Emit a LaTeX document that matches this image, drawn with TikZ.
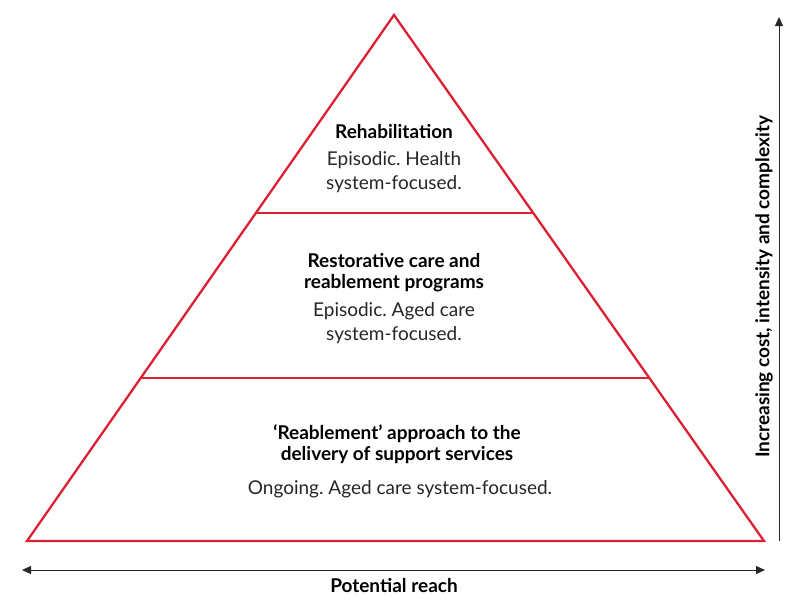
\documentclass[tikz,border=0pt]{standalone}
\usepackage{fontspec}
\setmainfont{Lato}
\usetikzlibrary{arrows.meta,calc}
\definecolor{pyrred}{RGB}{220,32,52}
\definecolor{arrgray}{RGB}{40,40,40}
\frenchspacing
\begin{document}
\begin{tikzpicture}[x=1pt,y=-1pt,
  pyr/.style={draw=pyrred,line width=2.3pt,line join=miter},
  title/.style={font=\fontsize{19}{21}\selectfont\bfseries,align=center,text=black,inner sep=0pt},
  body/.style={font=\fontsize{19}{24}\selectfont,align=center,text=black!85,inner sep=0pt},
  axis/.style={draw=arrgray,line width=1pt,-{Triangle[length=9pt,width=8pt]}}]
\useasboundingbox (0,0) rectangle (800,608);
\coordinate (apex) at (394,15);
\coordinate (bl) at (27,541);
\coordinate (br) at (764,541);
\draw[pyr] (apex) -- (bl) -- (br) -- cycle;
\coordinate (l1) at ($(apex)!198/526!(bl)$);
\coordinate (r1) at ($(apex)!198/526!(br)$);
\coordinate (l2) at ($(apex)!363/526!(bl)$);
\coordinate (r2) at ($(apex)!363/526!(br)$);
\draw[pyr] (l1) -- (r1);
\draw[pyr] (l2) -- (r2);
\node[title] (t1) at (394,132) {Rehabilitation};
\node[body] (b1) at (394,172) {Episodic. Health\\system-focused.};
\node[title] (t2) at (394,273) {Restorative care and\\reablement programs};
\node[body] (b2) at (394,323) {Episodic. Aged care\\system-focused.};
\node[title] (t3) at (397,444.5) {‘Reablement’ approach to the\\delivery of support services};
\node[body] (b3) at (400,489) {Ongoing. Aged care system-focused.};
\coordinate (hl) at (22,570);
\coordinate (hr) at (765,570);
\draw[axis,{Triangle[length=9pt,width=8pt]}-{Triangle[length=9pt,width=8pt]}] (hl) -- (hr);
\node[title] (px) at (394,586) {Potential reach};
\coordinate (vb) at (779,541);
\coordinate (vt) at (779,17);
\draw[axis] (vb) -- (vt);
\node[title,rotate=90] (py) at (764,287) {Increasing cost, intensity and complexity};
\end{tikzpicture}
\end{document}
